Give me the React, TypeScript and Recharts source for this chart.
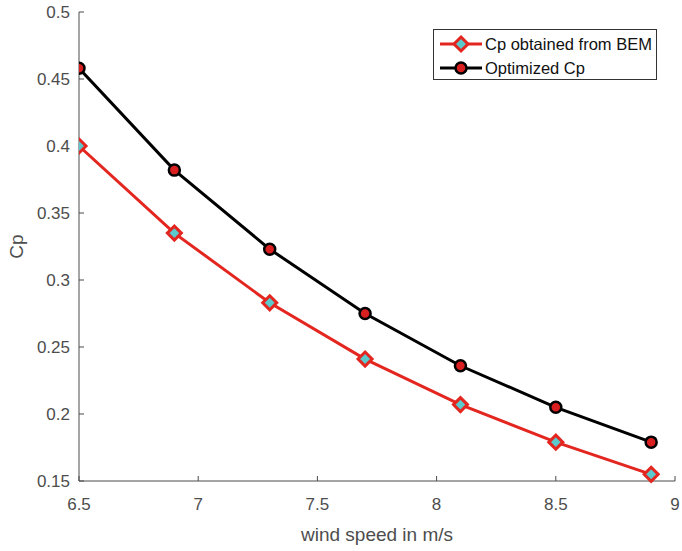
import { LineChart, Line, XAxis, YAxis } from 'recharts';

const windSpeed = [6.5, 6.9, 7.3, 7.7, 8.1, 8.5, 8.9];
const cpBem = [0.4, 0.335, 0.283, 0.241, 0.207, 0.179, 0.155];
const cpOptimized = [0.458, 0.382, 0.323, 0.275, 0.236, 0.205, 0.179];
const xTicks = [6.5, 7, 7.5, 8, 8.5, 9];
const yTicks = [0.15, 0.2, 0.25, 0.3, 0.35, 0.4, 0.45, 0.5];

const data = windSpeed.map((v, i) => ({ v, bem: cpBem[i], opt: cpOptimized[i] }));

const RED = '#e3261f';
const AXIS = '#4a4a4a';
const TEXT = '#4d4d4d';
const FONT = '"Liberation Sans", Arial, sans-serif';

function Diamond({ cx, cy }: any) {
  const r = 7;
  return (
    <path
      d={`M${cx},${cy - r}L${cx + r},${cy}L${cx},${cy + r}L${cx - r},${cy}Z`}
      fill="#5cc9cc"
      stroke={RED}
      strokeWidth={3}
    />
  );
}

function Dot({ cx, cy }: any) {
  return <circle cx={cx} cy={cy} r={5.5} fill="#d91f1f" stroke="#000" strokeWidth={2.5} />;
}

const NoTick = () => <g />;

function LegendBox() {
  const rows = [
    { label: 'Cp obtained from BEM', color: RED, marker: 'd' },
    { label: 'Optimized Cp', color: '#000', marker: 'o' },
  ];
  return (
    <div
      style={{
        position: 'absolute',
        left: 433,
        top: 29,
        border: '1px solid #333',
        background: '#fff',
        width: 224,
        height: 51,
        boxSizing: 'border-box',
        fontFamily: FONT,
        fontSize: 16.5,
        color: '#111',
        paddingTop: 2,
      }}
    >
      {rows.map((r) => (
        <div key={r.label} style={{ display: 'flex', alignItems: 'center', height: 24 }}>
          <svg width={46} height={20} style={{ marginLeft: 5 }}>
            <line x1={1} y1={10} x2={43} y2={10} stroke={r.color} strokeWidth={3} />
            {r.marker === 'd' ? <Diamond cx={22} cy={10} /> : <Dot cx={22} cy={10} />}
          </svg>
          <span>{r.label}</span>
        </div>
      ))}
    </div>
  );
}

export default function App() {
  return (
    <div style={{ position: 'absolute', left: 0, top: 0, width: 682, height: 551, background: '#fff' }}>
      <LineChart width={682} height={551} data={data} margin={{ top: 12, right: 7, bottom: 0, left: 0 }}>
        <XAxis
          dataKey="v"
          type="number"
          domain={[6.5, 9]}
          ticks={xTicks}
          allowDataOverflow
          height={70}
          tickSize={-5}
          tickMargin={22}
          stroke={AXIS}
          fontSize={17}
          fontFamily={FONT}
          tick={{ fill: TEXT, fontSize: 17, fontFamily: FONT }}
          label={{
            value: 'wind speed in m/s',
            position: 'insideBottom',
            offset: 10,
            style: { fill: TEXT, fontSize: 19, fontFamily: FONT },
          }}
        />
        <XAxis
          xAxisId="top"
          dataKey="v"
          type="number"
          orientation="top"
          domain={[6.5, 9]}
          ticks={xTicks}
          height={0}
          tickSize={-5}
          tick={NoTick}
          stroke={AXIS}
        />
        <YAxis
          type="number"
          domain={[0.15, 0.5]}
          ticks={yTicks}
          width={79}
          tickSize={-5}
          tickMargin={14}
          stroke={AXIS}
          fontSize={17}
          fontFamily={FONT}
          tick={{ fill: TEXT, fontSize: 17, fontFamily: FONT }}
          label={{
            value: 'Cp',
            angle: -90,
            position: 'insideLeft',
            offset: 16,
            style: { fill: TEXT, fontSize: 19, fontFamily: FONT, textAnchor: 'middle' },
          }}
        />
        <YAxis
          yAxisId="right"
          orientation="right"
          type="number"
          domain={[0.15, 0.5]}
          ticks={yTicks}
          width={0}
          tickSize={-5}
          tick={NoTick}
          stroke={AXIS}
        />
        <Line
          dataKey="bem"
          name="Cp obtained from BEM"
          stroke={RED}
          strokeWidth={3}
          dot={(p: any) => <Diamond key={p.index} cx={p.cx} cy={p.cy} />}
          isAnimationActive={false}
        />
        <Line
          dataKey="opt"
          name="Optimized Cp"
          stroke="#000"
          strokeWidth={3}
          dot={(p: any) => <Dot key={p.index} cx={p.cx} cy={p.cy} />}
          isAnimationActive={false}
        />
      </LineChart>
      <LegendBox />
    </div>
  );
}
